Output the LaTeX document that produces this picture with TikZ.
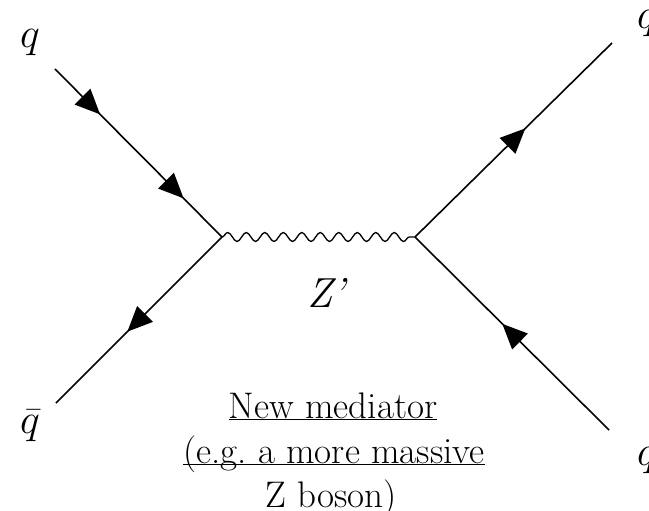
\RequirePackage{fix-cm}
\documentclass[tikz,border=0pt]{standalone}
\usepackage{tikz}
\usetikzlibrary{arrows.meta,positioning,decorations.pathmorphing,decorations.markings}

\begin{document}
\begin{tikzpicture}[
  x=1pt, y=-1pt,
  fermion/.style={line width=1.6pt},
  arrowat/.style={postaction={decorate, decoration={markings,
      mark=at position #1 with {\arrow{Triangle[length=25pt,width=22pt]}}}}},
  boson/.style={line width=1.3pt, decorate,
      decoration={snake, segment length=18.5pt, amplitude=4.5pt}},
  particle/.style={inner sep=0pt, font=\fontsize{42}{42}\selectfont},
  caption/.style={inner sep=0pt, anchor=base, font=\fontsize{37}{45}\selectfont}
]
\useasboundingbox (0,0) rectangle (649,511);
\clip (0,0) rectangle (649,511);

% vertices and external legs
\coordinate (v1) at (222,237);
\coordinate (v2) at (415,237);
\coordinate (qin) at (55,69);
\coordinate (qbin) at (56,403);
\coordinate (qout) at (612,43);
\coordinate (qbout) at (609,430);

\node[particle] (lqin) at (30,43) {$q$};
\node[particle] (lqbin) at (30,426) {$\bar{q}$};
\node[particle] (lqout) at (647,24) {$q$};
\node[particle] (lqbout) at (647,461) {$q$};

\draw[fermion, arrowat=0.27, arrowat=0.77] (qin) -- (v1);
\draw[fermion, arrowat=0.57] (v1) -- (qbin);
\draw[fermion, arrowat=0.56] (v2) -- (qout);
\draw[fermion, arrowat=0.55] (qbout) -- (v2);
\draw[boson] (v1) -- (v2);

\node[caption, font=\fontsize{42}{42}\selectfont\itshape] (zprime) at (326,307) {Z’};
\node[caption] (med1) at (333,418) {\underline{New mediator}};
\node[caption] (med2) at (334,463) {\underline{\smash{(e.g.\ a more massive}}};
\node[caption] (med3) at (331,507) {Z boson)};
\end{tikzpicture}
\end{document}
